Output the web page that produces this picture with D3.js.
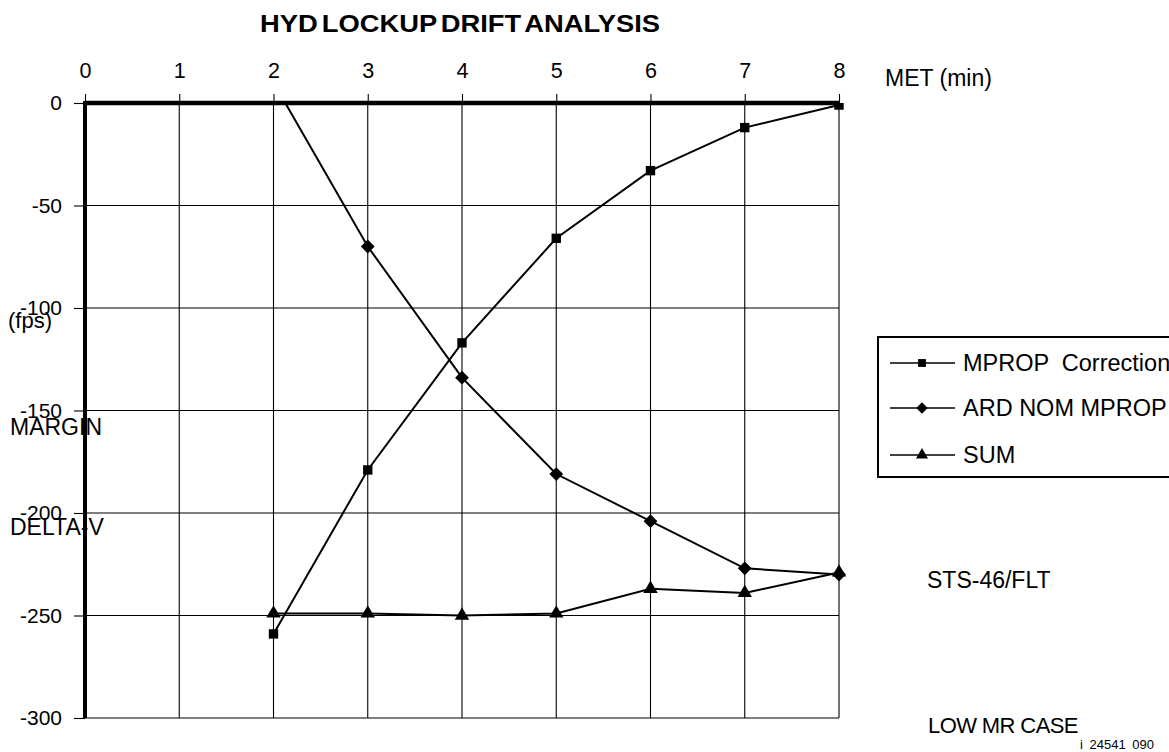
<!DOCTYPE html>
<html><head><meta charset="utf-8">
<script src="https://cdn.jsdelivr.net/npm/d3@7"></script>
<style>
body{margin:0;background:#fff;}
svg{display:block;font-family:"Liberation Sans",Arial,sans-serif;}
</style></head>
<body><svg id="c" width="1169" height="752"></svg>
<script>
const xTicks = [0,1,2,3,4,5,6,7,8];
const yTicks = [0,-50,-100,-150,-200,-250,-300];
const mpropX = [2,3,4,5,6,7,8];
const mpropY = [-259,-179,-117,-66,-33,-12,-1];
const ardX = [2,3,4,5,6,7,8];
const ardY = [10,-70,-134,-181,-204,-227,-230];
const sumX = [2,3,4,5,6,7,8];
const sumY = [-249,-249,-250,-249,-237,-239,-229];
const seriesNames = ["MPROP  Correction","ARD NOM MPROP","SUM"];
const markerTypes = ["square","diamond","triangle"];

const svg = d3.select("#c");
const x = d3.scaleLinear().domain([0,8]).range([85,839]);
const y = d3.scaleLinear().domain([-300,0]).range([718,103]);
const fmt = d => String(d);

// title
svg.append("text").attr("x",460).attr("y",32).attr("text-anchor","middle")
  .attr("font-weight","bold").attr("font-size",23).attr("word-spacing","-3")
  .attr("textLength",400).attr("lengthAdjust","spacingAndGlyphs")
  .text("HYD LOCKUP DRIFT ANALYSIS");

// grid
const g = svg.append("g");
g.selectAll("line.v").data(xTicks.slice(1)).join("line")
  .attr("x1",d=>x(d)).attr("x2",d=>x(d)).attr("y1",y(0)).attr("y2",y(-300))
  .attr("stroke","#000").attr("stroke-width",1.1);
g.selectAll("line.h").data(yTicks.slice(1)).join("line")
  .attr("x1",x(0)).attr("x2",x(8)).attr("y1",d=>y(d)).attr("y2",d=>y(d))
  .attr("stroke","#000").attr("stroke-width",1.1);

// top axis (ticks + labels)
const xAxis = d3.axisTop(x).tickValues(xTicks).tickSize(9).tickPadding(16).tickFormat(fmt);
const xa = svg.append("g").attr("transform",`translate(0,${y(0)})`).call(xAxis);
xa.select(".domain").remove();
xa.selectAll("line").attr("stroke","#000").attr("stroke-width",1.1);
xa.selectAll("text").attr("font-size",21.5).attr("font-family","Liberation Sans, Arial, sans-serif").attr("fill","#000");

// left axis
const yAxis = d3.axisLeft(y).tickValues(yTicks).tickSize(11).tickPadding(12).tickFormat(fmt);
const ya = svg.append("g").attr("transform",`translate(${x(0)},0)`).call(yAxis);
ya.select(".domain").remove();
ya.selectAll("line").attr("stroke","#000").attr("stroke-width",1.1);
ya.selectAll("text").attr("font-size",21).attr("font-family","Liberation Sans, Arial, sans-serif").attr("fill","#000");

// thick axis lines
svg.append("line").attr("x1",x(0)).attr("x2",x(8)+1).attr("y1",y(0)).attr("y2",y(0))
  .attr("stroke","#000").attr("stroke-width",4.5);
svg.append("line").attr("x1",x(0)).attr("x2",x(0)).attr("y1",y(0)-2).attr("y2",y(-300))
  .attr("stroke","#000").attr("stroke-width",4);

// series
svg.append("defs").append("clipPath").attr("id","plot")
  .append("rect").attr("x",x(0)).attr("y",y(0)).attr("width",x(8)-x(0)+10).attr("height",y(-300)-y(0));
const symMap = {square:d3.symbolSquare, diamond:d3.symbolSquare, triangle:d3.symbolTriangle};
const symSize = {square:88, diamond:95, triangle:90};
const symRot = {square:0, diamond:45, triangle:0};
const series = [
  {xs:mpropX, ys:mpropY, m:markerTypes[0]},
  {xs:ardX, ys:ardY, m:markerTypes[1]},
  {xs:sumX, ys:sumY, m:markerTypes[2]}
];
const plot = svg.append("g").attr("clip-path","url(#plot)");
const line = d3.line().x(d=>x(d[0])).y(d=>y(d[1]));
series.forEach(s=>{
  const pts = s.xs.map((v,i)=>[v,s.ys[i]]);
  plot.append("path").attr("d",line(pts)).attr("fill","none").attr("stroke","#000").attr("stroke-width",2);
  plot.selectAll(null).data(pts).join("path")
    .attr("transform",d=>`translate(${x(d[0])},${y(d[1])}) rotate(${symRot[s.m]})`)
    .attr("d",d3.symbol(symMap[s.m],symSize[s.m])).attr("fill","#000");
});

// axis titles / side labels
const lab = (t,xx,yy,fs,anchor)=>svg.append("text").attr("x",xx).attr("y",yy).attr("font-size",fs)
  .attr("text-anchor",anchor||"start").text(t);
lab("MET (min)",885,86,23);
lab("(fps)",8,328,22);
lab("MARGIN",10,435,23);
lab("DELTA-V",10,535,23);
lab("STS-46/FLT",927,588,23);
lab("LOW MR CASE",928,733,22).attr("letter-spacing","-0.6");
lab("i 24541 090",1080,749,13).attr("word-spacing","3");

// legend
const lg = svg.append("g");
lg.append("rect").attr("x",878).attr("y",337).attr("width",320).attr("height",140)
  .attr("fill","#fff").attr("stroke","#000").attr("stroke-width",2);
const rows = [363,408,455];
seriesNames.forEach((n,i)=>{
  const m = markerTypes[i];
  lg.append("line").attr("x1",890).attr("x2",955).attr("y1",rows[i]).attr("y2",rows[i])
    .attr("stroke","#000").attr("stroke-width",1.5);
  lg.append("path").attr("transform",`translate(922,${rows[i]}) rotate(${symRot[m]})`)
    .attr("d",d3.symbol(symMap[m],symSize[m]*0.7)).attr("fill","#000");
  lg.append("text").attr("x",963).attr("y",rows[i]+8).attr("font-size",23.5).attr("xml:space","preserve").text(n);
});
</script></body></html>
